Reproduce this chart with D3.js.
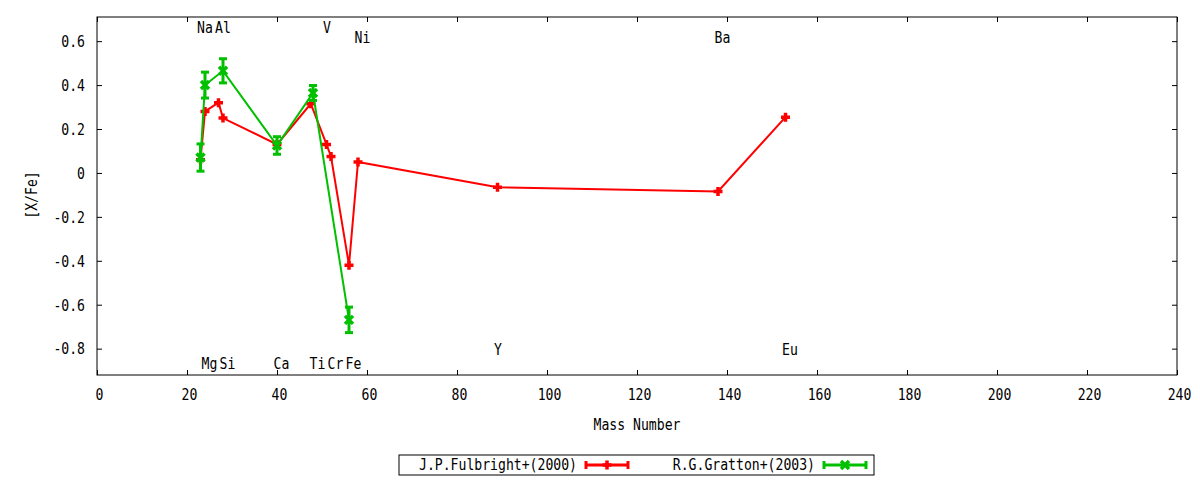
<!DOCTYPE html>
<html>
<head>
<meta charset="utf-8">
<script src="https://cdn.jsdelivr.net/npm/d3@7"></script>
<style>
  html, body { margin: 0; padding: 0; background: #fff; }
  svg text { font-family: "DejaVu Sans Mono", "Liberation Mono", monospace; font-size: 15px; fill: #000; }
</style>
</head>
<body>
<svg id="chart" width="1200" height="480"></svg>
<script>
// ---------- data ----------
const elements = ["Na","Mg","Al","Si","Ca","Ti","V","Cr","Fe","Ni","Y","Ba","Eu"];
const masses   = [23, 24, 27, 28, 40, 48, 51, 52, 56, 58, 89, 138, 153];
const labelY   = [0.665, -0.865, 0.665, -0.865, -0.865, -0.865, 0.665, -0.865, -0.865, 0.62, -0.80, 0.62, -0.80];

const fulbrightMass = [23, 24, 27, 28, 40, 47.5, 51, 52, 56, 58, 89, 138, 153];
const fulbrightVal  = [0.06, 0.28, 0.32, 0.25, 0.13, 0.315, 0.13, 0.075, -0.42, 0.05, -0.065, -0.084, 0.254];

const grattonMass = [23, 24, 28, 40, 48, 56];
const grattonVal  = [0.07, 0.40, 0.465, 0.125, 0.364, -0.669];
const grattonErr  = [0.062, 0.059, 0.055, 0.04, 0.034, 0.058];

const xTicks = [0, 20, 40, 60, 80, 100, 120, 140, 160, 180, 200, 220, 240];
const yTicks = [-0.8, -0.6, -0.4, -0.2, 0, 0.2, 0.4, 0.6];

const seriesNames = ["J.P.Fulbright+(2000)", "R.G.Gratton+(2003)"];
const xTitle = "Mass Number";
const yTitle = "[X/Fe]";

// ---------- layout ----------
const L = 97, R = 1177, T = 17, B = 375;
const CH = 7.9; // char advance
const RED = "#ff0000", GREEN = "#00c000";

const svg = d3.select("#chart");
const x = d3.scaleLinear().domain([0, 240]).range([L, R]);
const y = d3.scaleLinear().domain([-0.92, 0.71]).range([B, T]);

function fit(sel) {
  sel.each(function() {
    const t = d3.select(this).text();
    d3.select(this).attr("textLength", t.length * CH).attr("lengthAdjust", "spacingAndGlyphs");
  });
  return sel;
}

// axes (ticks inward, mirrored)
const fmtY = d => (d === 0 ? "0" : d.toFixed(1));
const gxB = svg.append("g").attr("transform", `translate(0,${B})`)
  .call(d3.axisBottom(x).tickValues(xTicks).tickSize(-5).tickFormat(d3.format("d")));
const gxT = svg.append("g").attr("transform", `translate(0,${T})`)
  .call(d3.axisTop(x).tickValues(xTicks).tickSize(-5).tickFormat(""));
const gyL = svg.append("g").attr("transform", `translate(${L},0)`)
  .call(d3.axisLeft(y).tickValues(yTicks).tickSize(-5).tickFormat(fmtY));
const gyR = svg.append("g").attr("transform", `translate(${R},0)`)
  .call(d3.axisRight(y).tickValues(yTicks).tickSize(-5).tickFormat(""));

[gxB, gxT, gyL, gyR].forEach(g => {
  g.select(".domain").remove();
  g.selectAll("line").attr("stroke", "#000").attr("stroke-width", 1);
  g.attr("font-family", null).attr("font-size", null);
});
gxB.selectAll("text").attr("y", 25).attr("dy", 0).attr("dx", 2).attr("text-anchor", "middle").call(fit);
gyL.selectAll("text").attr("x", -12).attr("dy", 0).attr("y", 0)
  .attr("transform", "translate(0,5.3)").attr("text-anchor", "end").call(fit);
gxT.selectAll("text").remove();
gyR.selectAll("text").remove();

// frame
svg.append("rect").attr("x", L).attr("y", T).attr("width", R - L).attr("height", B - T)
  .attr("fill", "none").attr("stroke", "#000").attr("stroke-width", 1);

// axis titles
svg.append("text").attr("x", (L + R) / 2).attr("y", 430).attr("text-anchor", "middle").text(xTitle).call(fit);
svg.append("text").attr("transform", "translate(37,195) rotate(-90)").attr("text-anchor", "middle").text(yTitle).call(fit);

// element labels
svg.append("g").selectAll("text").data(elements).join("text")
  .attr("x", (d, i) => x(masses[i]) - 3.5)
  .attr("y", (d, i) => y(labelY[i]) + 6)
  .attr("text-anchor", "start")
  .text(d => d).call(fit);

// marker helpers
const plusPath = "M-4.5,0H4.5M0,-4.5V4.5";
const crossPath = "M-4,-4L4,4M-4,4L4,-4";

// Fulbright (red)
const fData = fulbrightMass.map((m, i) => ({ m, v: fulbrightVal[i] }));
const line = d3.line().x(d => x(d.m)).y(d => y(d.v));
svg.append("path").datum(fData).attr("d", line)
  .attr("fill", "none").attr("stroke", RED).attr("stroke-width", 2).attr("stroke-linejoin", "miter");
svg.append("g").selectAll("path").data(fData).join("path")
  .attr("transform", d => `translate(${x(d.m)},${y(d.v)})`)
  .attr("d", plusPath).attr("stroke", RED).attr("stroke-width", 3.5).attr("fill", "none");

// Gratton (green)
const gData = grattonMass.map((m, i) => ({ m, v: grattonVal[i], e: grattonErr[i] }));
svg.append("path").datum(gData).attr("d", line)
  .attr("fill", "none").attr("stroke", GREEN).attr("stroke-width", 2);
const gE = svg.append("g").selectAll("g").data(gData).join("g");
gE.append("line").attr("x1", d => x(d.m)).attr("x2", d => x(d.m))
  .attr("y1", d => y(d.v + d.e)).attr("y2", d => y(d.v - d.e))
  .attr("stroke", GREEN).attr("stroke-width", 3);
gE.append("line").attr("x1", d => x(d.m) - 4).attr("x2", d => x(d.m) + 4)
  .attr("y1", d => y(d.v + d.e)).attr("y2", d => y(d.v + d.e))
  .attr("stroke", GREEN).attr("stroke-width", 3);
gE.append("line").attr("x1", d => x(d.m) - 4).attr("x2", d => x(d.m) + 4)
  .attr("y1", d => y(d.v - d.e)).attr("y2", d => y(d.v - d.e))
  .attr("stroke", GREEN).attr("stroke-width", 3);
gE.append("path").attr("transform", d => `translate(${x(d.m)},${y(d.v)})`)
  .attr("d", crossPath).attr("stroke", GREEN).attr("stroke-width", 3.5).attr("fill", "none");

// legend
const leg = svg.append("g");
leg.append("rect").attr("x", 399).attr("y", 455).attr("width", 475).attr("height", 20)
  .attr("fill", "none").attr("stroke", "#000").attr("stroke-width", 1);
const legItems = [
  { name: seriesNames[0], tx: 577, x0: 586, x1: 628, color: RED, mark: plusPath, sw: 3.5 },
  { name: seriesNames[1], tx: 815, x0: 824, x1: 866, color: GREEN, mark: crossPath, sw: 3.5 }
];
legItems.forEach(it => {
  leg.append("text").attr("x", it.tx).attr("y", 469.5).attr("text-anchor", "end").text(it.name).call(fit);
  const ly = 465;
  leg.append("line").attr("x1", it.x0).attr("x2", it.x1).attr("y1", ly).attr("y2", ly)
    .attr("stroke", it.color).attr("stroke-width", 3);
  [it.x0, it.x1].forEach(cx => leg.append("line").attr("x1", cx).attr("x2", cx)
    .attr("y1", ly - 4).attr("y2", ly + 4).attr("stroke", it.color).attr("stroke-width", 3));
  leg.append("path").attr("transform", `translate(${(it.x0 + it.x1) / 2},${ly})`)
    .attr("d", it.mark).attr("stroke", it.color).attr("stroke-width", it.sw).attr("fill", "none");
});
</script>
</body>
</html>
